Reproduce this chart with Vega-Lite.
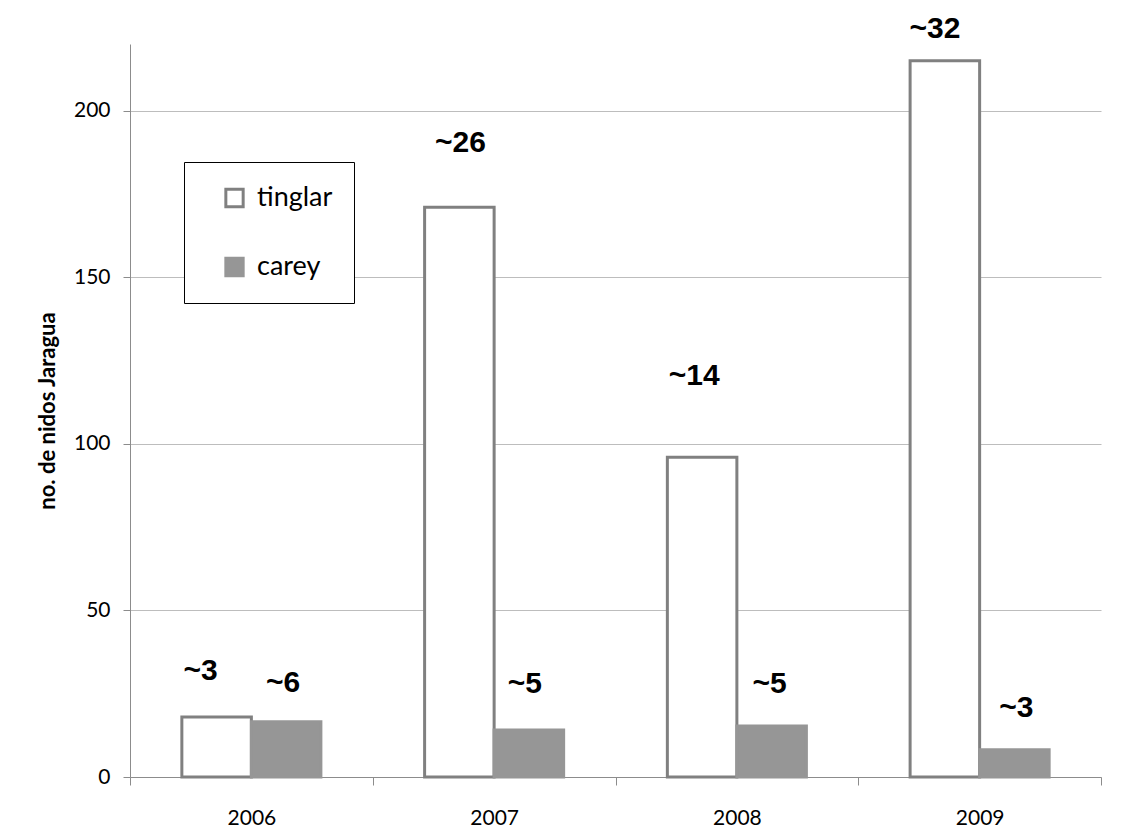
{
  "$schema": "https://vega.github.io/schema/vega-lite/v6.json",
  "width": 971,
  "height": 733,
  "autosize": {"type": "none"},
  "padding": {"left": 130, "top": 44, "right": 40, "bottom": 54},
  "background": "white",
  "config": {"view": {"stroke": null}, "font": "Lato"},
  "data": {
    "values": [
      {"year": "2006", "series": "tinglar", "value": 18, "label": "~3"},
      {"year": "2006", "series": "carey", "value": 16.6, "label": "~6"},
      {"year": "2007", "series": "tinglar", "value": 171, "label": "~26"},
      {"year": "2007", "series": "carey", "value": 14.1, "label": "~5"},
      {"year": "2008", "series": "tinglar", "value": 96, "label": "~14"},
      {"year": "2008", "series": "carey", "value": 15.3, "label": "~5"},
      {"year": "2009", "series": "tinglar", "value": 215, "label": "~32"},
      {"year": "2009", "series": "carey", "value": 8.2, "label": "~3"}
    ]
  },
  "encoding": {
    "x": {
      "field": "year",
      "type": "ordinal",
      "scale": {"paddingInner": 0, "paddingOuter": 0},
      "axis": {
        "title": null,
        "labelAngle": 0,
        "tickBand": "extent",
        "tickSize": 8,
        "labelPadding": 22,
        "labelFontSize": 21,
        "labelFont": "Lato",
        "labelColor": "black",
        "domainColor": "#8c8c8c",
        "tickColor": "#8c8c8c",
        "grid": false
      }
    },
    "xOffset": {
      "field": "series",
      "type": "nominal",
      "sort": ["tinglar", "carey"],
      "scale": {"paddingInner": 0, "paddingOuter": 0.746}
    },
    "y": {
      "field": "value",
      "type": "quantitative",
      "scale": {"domain": [0, 220], "nice": false},
      "axis": {
        "values": [0, 50, 100, 150, 200],
        "title": "no. de nidos Jaragua",
        "titleFont": "Lato",
        "titleFontWeight": "bold",
        "titleFontSize": 22,
        "titleColor": "black",
        "titlePadding": 14,
        "tickSize": 7,
        "labelPadding": 13,
        "labelFontSize": 21,
        "labelFont": "Lato",
        "labelColor": "black",
        "domainColor": "#8c8c8c",
        "tickColor": "#8c8c8c",
        "grid": true,
        "gridColor": "#bdbdbd"
      }
    }
  },
  "layer": [
    {
      "mark": {"type": "bar", "strokeWidth": 3},
      "encoding": {
        "fill": {
          "field": "series",
          "type": "nominal",
          "sort": ["tinglar", "carey"],
          "scale": {"domain": ["tinglar", "carey"], "range": ["#ffffff", "#969696"]},
          "legend": {
            "orient": "none",
            "legendX": 54,
            "legendY": 118,
            "title": null,
            "strokeColor": "black",
            "fillColor": "white",
            "padding": 21,
            "symbolType": "square",
            "symbolSize": 300,
            "symbolStrokeWidth": 3,
            "symbolOffset": 16,
            "labelFont": "Lato",
            "labelFontSize": 27,
            "labelColor": "black",
            "labelOffset": 9,
            "clipHeight": 30,
            "rowPadding": 39
          }
        },
        "stroke": {
          "field": "series",
          "type": "nominal",
          "sort": ["tinglar", "carey"],
          "scale": {"domain": ["tinglar", "carey"], "range": ["#808080", "#969696"]}
        }
      }
    },
    {
      "transform": [{"filter": "datum.year == '2006' && datum.series == 'tinglar'"}],
      "mark": {"type": "text", "font": "Liberation Sans", "fontWeight": "bold", "fontSize": 30, "baseline": "middle", "dx": -16, "dy": -46, "color": "black"},
      "encoding": {"text": {"field": "label"}}
    },
    {
      "transform": [{"filter": "datum.year == '2007' && datum.series == 'tinglar'"}],
      "mark": {"type": "text", "font": "Liberation Sans", "fontWeight": "bold", "fontSize": 30, "baseline": "middle", "dx": 1, "dy": -64, "color": "black"},
      "encoding": {"text": {"field": "label"}}
    },
    {
      "transform": [{"filter": "datum.year == '2008' && datum.series == 'tinglar'"}],
      "mark": {"type": "text", "font": "Liberation Sans", "fontWeight": "bold", "fontSize": 30, "baseline": "middle", "dx": -8, "dy": -81, "color": "black"},
      "encoding": {"text": {"field": "label"}}
    },
    {
      "transform": [{"filter": "datum.year == '2009' && datum.series == 'tinglar'"}],
      "mark": {"type": "text", "font": "Liberation Sans", "fontWeight": "bold", "fontSize": 30, "baseline": "middle", "dx": -10, "dy": -32, "color": "black"},
      "encoding": {"text": {"field": "label"}}
    },
    {
      "transform": [{"filter": "datum.year == '2006' && datum.series == 'carey'"}],
      "mark": {"type": "text", "font": "Liberation Sans", "fontWeight": "bold", "fontSize": 30, "baseline": "middle", "dx": -3, "dy": -39, "color": "black"},
      "encoding": {"text": {"field": "label"}}
    },
    {
      "transform": [{"filter": "datum.year == '2007' && datum.series == 'carey'"}],
      "mark": {"type": "text", "font": "Liberation Sans", "fontWeight": "bold", "fontSize": 30, "baseline": "middle", "dx": -4, "dy": -46, "color": "black"},
      "encoding": {"text": {"field": "label"}}
    },
    {
      "transform": [{"filter": "datum.year == '2008' && datum.series == 'carey'"}],
      "mark": {"type": "text", "font": "Liberation Sans", "fontWeight": "bold", "fontSize": 30, "baseline": "middle", "dx": -2, "dy": -42, "color": "black"},
      "encoding": {"text": {"field": "label"}}
    },
    {
      "transform": [{"filter": "datum.year == '2009' && datum.series == 'carey'"}],
      "mark": {"type": "text", "font": "Liberation Sans", "fontWeight": "bold", "fontSize": 30, "baseline": "middle", "dx": 2, "dy": -42, "color": "black"},
      "encoding": {"text": {"field": "label"}}
    }
  ]
}
